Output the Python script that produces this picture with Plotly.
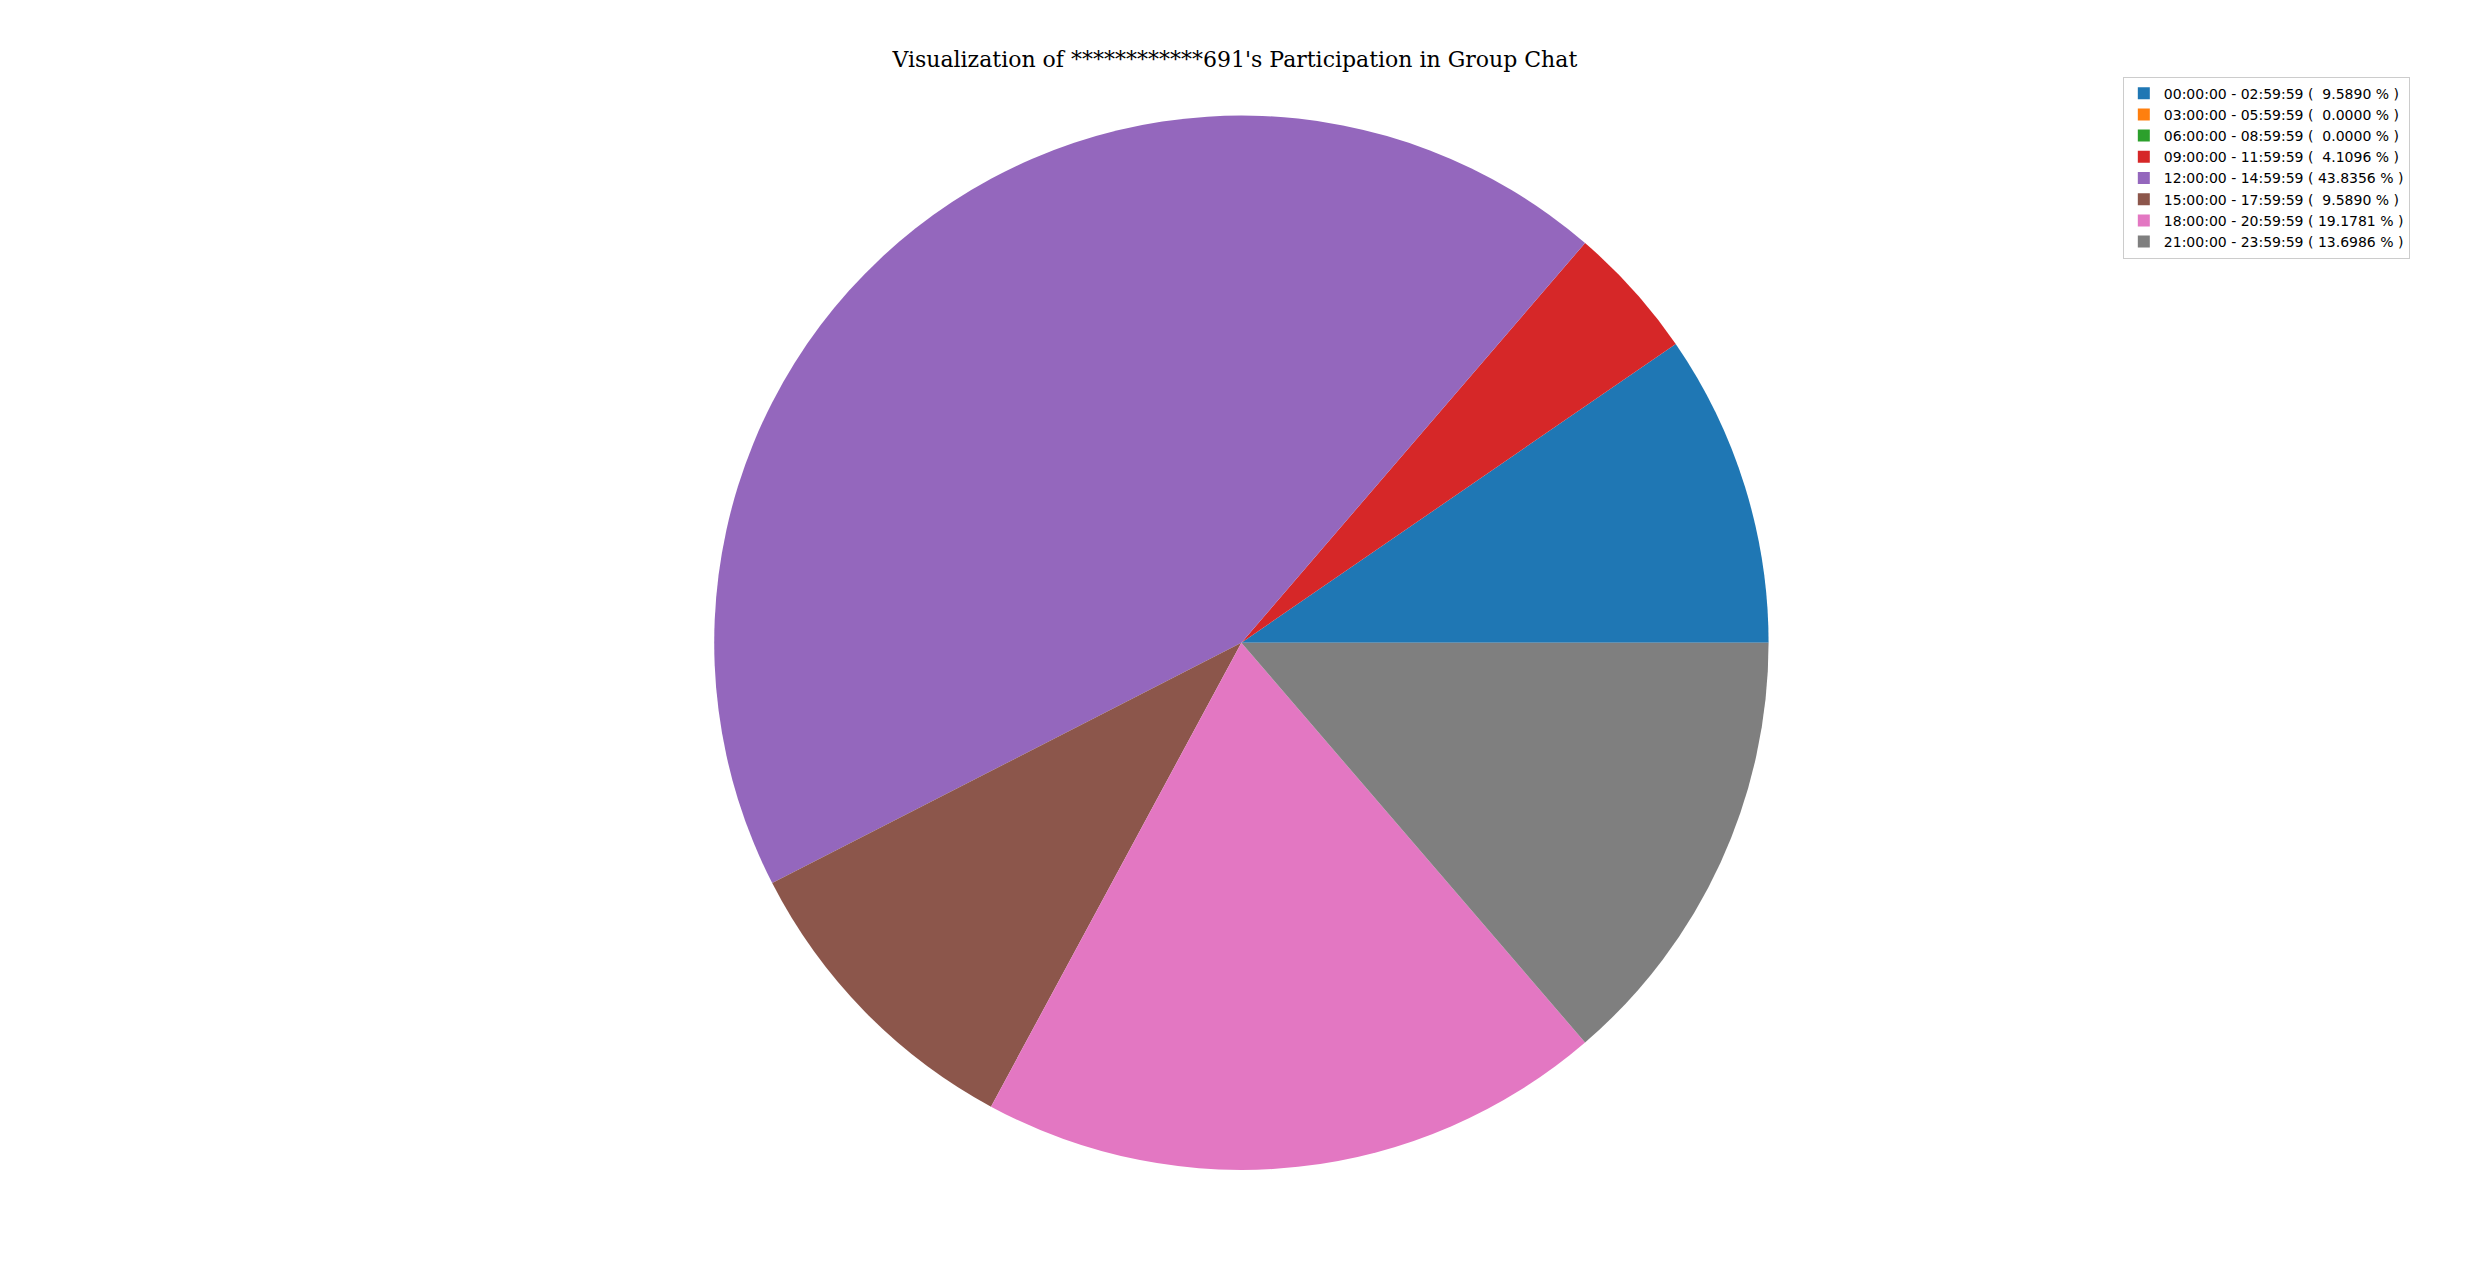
import plotly.graph_objects as go

ranges = ["00:00:00 - 02:59:59", "03:00:00 - 05:59:59", "06:00:00 - 08:59:59",
          "09:00:00 - 11:59:59", "12:00:00 - 14:59:59", "15:00:00 - 17:59:59",
          "18:00:00 - 20:59:59", "21:00:00 - 23:59:59"]
percents = [9.5890, 0.0, 0.0, 4.1096, 43.8356, 9.5890, 19.1781, 13.6986]
colors = ["#1f77b4", "#ff7f0e", "#2ca02c", "#d62728", "#9467bd", "#8c564b", "#e377c2", "#7f7f7f"]

labels = [f"{r} ( {p:.4f} % )" if p >= 10 else f"{r} (  {p:.4f} % )" for r, p in zip(ranges, percents)]

# plotly: with counterclockwise, first slice ends at the rotation angle;
# shift so the first slice starts at 3 o'clock like matplotlib
rot = 90 - 360 * percents[0] / sum(percents)

fig = go.Figure(go.Pie(
    labels=labels,
    values=percents,
    marker=dict(colors=colors, line=dict(width=0)),
    sort=False,
    direction="counterclockwise",
    rotation=rot,
    textinfo="none",
    hoverinfo="label",
    domain=dict(x=[0.2859, 0.7128], y=[0.0851, 0.9153]),
))

fig.update_layout(
    width=2470, height=1270,
    margin=dict(l=0, r=0, t=0, b=0),
    paper_bgcolor="white", plot_bgcolor="white",
    title=dict(text="Visualization of ************691's Participation in Group Chat",
               x=0.4967, xanchor="center", y=0.9593, yanchor="middle",
               font=dict(family="DejaVu Serif", size=22, color="black")),
    legend=dict(x=0.8562, y=0.946, xanchor="left", yanchor="top",
                bordercolor="#cccccc", borderwidth=1, bgcolor="white",
                font=dict(family="DejaVu Sans", size=14, color="black"),
                traceorder="normal"),
)

fig.write_html("out.html")
